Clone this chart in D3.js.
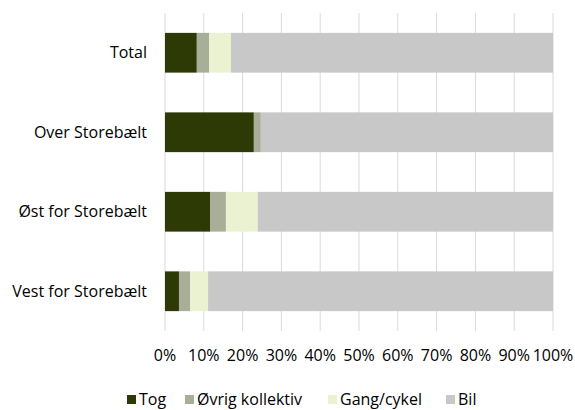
<!DOCTYPE html>
<html>
<head>
<meta charset="utf-8">
<script src="https://cdn.jsdelivr.net/npm/d3@7"></script>
<style>
  body { margin: 0; background: #fff; }
  text { font-family: "Open Sans", "Noto Sans", sans-serif; fill: #000; }
</style>
</head>
<body>
<div class="chart"></div>
<script>
// categories top to bottom
let categories = ["Total", "Over Storebælt", "Øst for Storebælt", "Vest for Storebælt"];
let seriesNames = ["Tog", "Øvrig kollektiv", "Gang/cykel", "Bil"];
// shares in percent, per category
let tog = [8.2, 22.9, 11.6, 3.6];
let oevrig = [3.2, 1.8, 4.1, 2.9];
let gang = [5.6, 0.0, 8.2, 4.6];
let bil = [83.0, 75.3, 76.1, 88.9];
let tickValues = [0, 10, 20, 30, 40, 50, 60, 70, 80, 90, 100];
let colorrange = ["#2d3a06", "#a9ae98", "#eaf2d2", "#c8c8c8"];

let data = categories.map(function(c, i) {
  return {cat: c, "Tog": tog[i], "Øvrig kollektiv": oevrig[i], "Gang/cykel": gang[i], "Bil": bil[i]};
});

let margin = {top: 13, right: 22, bottom: 79, left: 165};
let width = 575 - margin.left - margin.right;
let height = 410 - margin.top - margin.bottom;
let fs = "16px";

let svg = d3.select(".chart").append("svg")
    .attr("width", 575)
    .attr("height", 410);

let g = svg.append("g")
    .attr("transform", "translate(" + margin.left + "," + margin.top + ")");

let x = d3.scaleLinear().domain([0, 100]).range([0, width]);
let y = d3.scaleBand().domain(categories).range([0, height]).paddingInner(0.5).paddingOuter(0.25);
let z = d3.scaleOrdinal().domain(seriesNames).range(colorrange);

// gridlines
g.selectAll(".grid")
  .data(tickValues)
  .enter().append("line")
    .attr("class", "grid")
    .attr("x1", d => x(d)).attr("x2", d => x(d))
    .attr("y1", 0).attr("y2", height)
    .attr("stroke", "#d9d9d9")
    .attr("stroke-width", 1);

let layers = d3.stack().keys(seriesNames)(data);

g.selectAll(".layer")
  .data(layers)
  .enter().append("g")
    .attr("class", "layer")
    .attr("fill", d => z(d.key))
  .selectAll("rect")
  .data(d => d)
  .enter().append("rect")
    .attr("x", d => x(d[0]))
    .attr("width", d => x(d[1]) - x(d[0]))
    .attr("y", d => y(d.data.cat))
    .attr("height", y.bandwidth());

// x tick labels
g.selectAll(".xlab")
  .data(tickValues)
  .enter().append("text")
    .attr("class", "xlab")
    .attr("x", d => x(d))
    .attr("y", height + 30)
    .attr("text-anchor", "middle")
    .style("font-size", fs)
    .text(d => d + "%");

// category labels
g.selectAll(".ylab")
  .data(categories)
  .enter().append("text")
    .attr("class", "ylab")
    .attr("x", -18)
    .attr("y", d => y(d) + y.bandwidth() / 2)
    .attr("dy", "0.35em")
    .attr("text-anchor", "end")
    .style("font-size", fs)
    .text(d => d);

// legend
let legendX = [127, 185, 328, 446];
let legend = svg.selectAll(".legend")
  .data(seriesNames)
  .enter().append("g")
    .attr("class", "legend")
    .attr("transform", (d, i) => "translate(" + legendX[i] + ",399)");

legend.append("rect")
  .attr("x", 0).attr("y", -4)
  .attr("width", 9).attr("height", 9)
  .attr("fill", d => z(d));

legend.append("text")
  .attr("x", 12)
  .attr("y", 0)
  .attr("dy", "0.35em")
  .style("font-size", fs)
  .text(d => d);
</script>
</body>
</html>
